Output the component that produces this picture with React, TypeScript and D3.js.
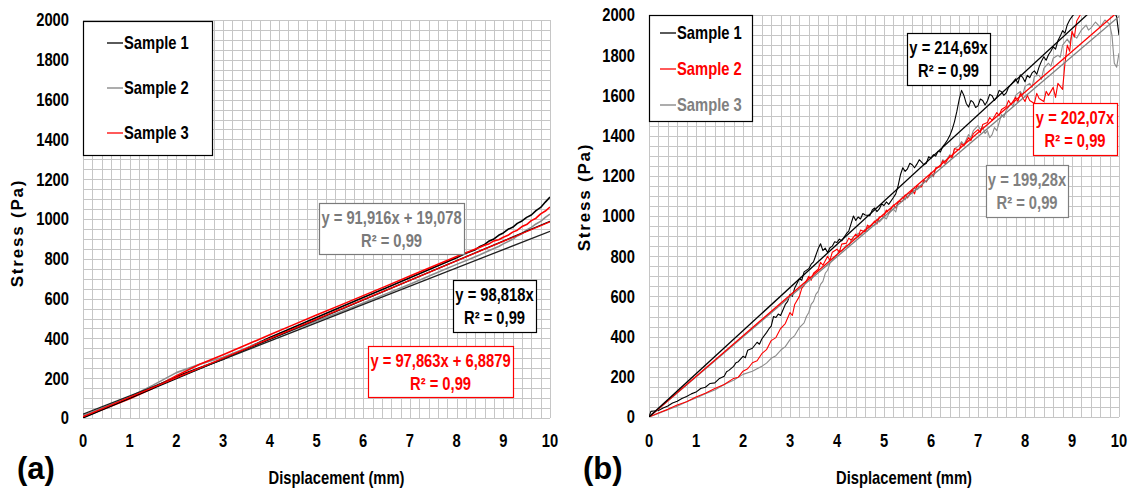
import { useEffect, useRef } from "react";
import * as d3 from "d3";

type Pt = [number, number];

const xTicks = [0, 1, 2, 3, 4, 5, 6, 7, 8, 9, 10];
const yTicks = [0, 200, 400, 600, 800, 1000, 1200, 1400, 1600, 1800, 2000];

// panel (a)
const aSample1: Pt[] = [
  [0, 8], [0.5, 55], [1, 103], [1.5, 155], [2, 208], [2.5, 252], [3, 295], [3.5, 350], [4, 405],
  [4.5, 455], [5, 505], [5.5, 555], [6, 605], [6.5, 655], [7, 705], [7.5, 755], [8, 805],
  [8.2, 828], [8.4, 846], [8.5, 862], [8.6, 872], [8.7, 890], [8.8, 900], [8.9, 918], [9, 930],
  [9.1, 948], [9.2, 958], [9.3, 978], [9.4, 990], [9.5, 1008], [9.6, 1020], [9.7, 1042],
  [9.8, 1058], [9.9, 1085], [10, 1110],
];
const aSample2: Pt[] = [
  [0, 12], [0.5, 58], [1, 106], [1.5, 165], [2, 228], [2.5, 270], [3, 305], [3.5, 352], [4, 398],
  [4.5, 442], [5, 488], [5.5, 532], [6, 578], [6.5, 625], [7, 672], [7.5, 722], [8, 772],
  [8.3, 800], [8.5, 820], [8.7, 842], [8.9, 862], [9, 875], [9.2, 898], [9.3, 915], [9.4, 926],
  [9.5, 945], [9.6, 958], [9.7, 975], [9.8, 988], [9.9, 1008], [10, 1025],
];
const aSample3: Pt[] = [
  [0, 4], [0.5, 50], [1, 97], [1.5, 150], [2, 212], [2.5, 270], [3, 318], [3.5, 368], [4, 418],
  [4.5, 468], [5, 518], [5.5, 566], [6, 615], [6.5, 664], [7, 713], [7.5, 762], [8, 812],
  [8.5, 858], [8.6, 868], [8.7, 876], [8.8, 890], [8.9, 896], [9, 908], [9.1, 918], [9.2, 934],
  [9.3, 944], [9.4, 962], [9.5, 972], [9.6, 992], [9.7, 1004], [9.8, 1026], [9.9, 1040], [10, 1060],
];
const aFits = [
  { slope: 98.818, icpt: 0, color: "#000000" },
  { slope: 91.916, icpt: 19.078, color: "#202020" },
  { slope: 97.863, icpt: 6.8879, color: "#ff0000" },
];

// panel (b)
const bSample1: Pt[] = [
  [0, 0], [0.04, 28], [0.1, 30], [0.2, 32], [0.3, 45], [0.4, 55], [0.5, 70], [0.6, 78], [0.7, 92],
  [0.8, 102], [0.9, 115], [1.0, 124], [1.1, 142], [1.2, 148], [1.3, 167], [1.4, 170], [1.5, 192],
  [1.6, 203], [1.65, 225], [1.7, 232], [1.8, 252], [1.85, 270], [1.9, 275], [2.0, 302], [2.05, 295],
  [2.1, 332], [2.2, 342], [2.3, 372], [2.35, 362], [2.4, 388], [2.5, 420], [2.55, 438], [2.6, 452],
  [2.65, 500], [2.7, 495], [2.75, 512], [2.8, 505], [2.9, 560], [2.95, 575], [3.0, 610], [3.05, 600],
  [3.1, 642], [3.2, 688], [3.25, 680], [3.3, 722], [3.4, 738], [3.45, 760], [3.5, 772], [3.55, 805],
  [3.6, 838], [3.65, 862], [3.7, 828], [3.75, 840], [3.8, 818], [3.85, 842], [3.9, 850], [3.95, 872],
  [4.0, 868], [4.05, 885], [4.1, 876], [4.2, 912], [4.25, 925], [4.3, 962], [4.35, 1000], [4.4, 978],
  [4.45, 995], [4.5, 985], [4.55, 1012], [4.6, 1005], [4.7, 1002], [4.75, 1030], [4.8, 1040],
  [4.85, 1022], [4.9, 1035], [4.95, 1060], [5.0, 1052], [5.05, 1070], [5.1, 1058], [5.2, 1092],
  [5.25, 1110], [5.3, 1150], [5.35, 1205], [5.4, 1240], [5.45, 1222], [5.5, 1235], [5.55, 1262],
  [5.6, 1255], [5.65, 1240], [5.7, 1258], [5.75, 1280], [5.8, 1268], [5.85, 1255], [5.9, 1262],
  [5.95, 1295], [6.0, 1288], [6.05, 1305], [6.1, 1298], [6.15, 1322], [6.2, 1318], [6.25, 1345],
  [6.3, 1360], [6.35, 1378], [6.4, 1400], [6.45, 1430], [6.5, 1470], [6.55, 1520], [6.6, 1580],
  [6.65, 1625], [6.7, 1600], [6.75, 1560], [6.8, 1542], [6.85, 1575], [6.9, 1565], [6.95, 1540],
  [7.0, 1548], [7.05, 1582], [7.1, 1575], [7.15, 1552], [7.2, 1572], [7.25, 1605], [7.3, 1598],
  [7.35, 1575], [7.4, 1592], [7.45, 1625], [7.5, 1618], [7.55, 1600], [7.6, 1612], [7.65, 1640],
  [7.7, 1652], [7.75, 1668], [7.8, 1682], [7.85, 1660], [7.9, 1702], [7.95, 1690], [8.0, 1668],
  [8.05, 1700], [8.1, 1688], [8.15, 1712], [8.2, 1722], [8.25, 1705], [8.3, 1742], [8.35, 1770],
  [8.4, 1792], [8.45, 1775], [8.5, 1802], [8.55, 1820], [8.6, 1842], [8.65, 1830], [8.7, 1872],
  [8.75, 1895], [8.8, 1922], [8.85, 1910], [8.9, 1952], [8.95, 1975], [9.0, 1992], [9.1, 2020],
  [9.3, 2040], [9.5, 2030], [9.7, 2050], [9.9, 2020], [9.95, 1990], [10.0, 1900],
];
const bSample2: Pt[] = [
  [0, 0], [0.2, 20], [0.4, 38], [0.6, 60], [0.8, 76], [1.0, 100], [1.2, 118], [1.4, 142], [1.6, 162],
  [1.8, 192], [1.9, 198], [2.0, 228], [2.1, 240], [2.2, 270], [2.3, 280], [2.4, 315], [2.5, 335],
  [2.6, 380], [2.7, 395], [2.8, 440], [2.9, 465], [3.0, 520], [3.05, 505], [3.1, 560], [3.2, 600],
  [3.25, 640], [3.3, 655], [3.4, 700], [3.45, 680], [3.5, 715], [3.6, 735], [3.65, 770], [3.7, 755],
  [3.8, 800], [3.85, 780], [3.9, 820], [4.0, 835], [4.05, 820], [4.1, 860], [4.2, 865], [4.25, 890],
  [4.3, 880], [4.4, 910], [4.45, 895], [4.5, 930], [4.6, 920], [4.65, 955], [4.7, 945], [4.8, 975],
  [4.85, 960], [4.9, 995], [5.0, 1000], [5.05, 1030], [5.1, 1015], [5.2, 1055], [5.25, 1040],
  [5.3, 1070], [5.4, 1075], [5.45, 1105], [5.5, 1090], [5.6, 1130], [5.65, 1110], [5.7, 1150],
  [5.8, 1145], [5.85, 1175], [5.9, 1170], [6.0, 1215], [6.05, 1200], [6.1, 1240], [6.2, 1245],
  [6.25, 1275], [6.3, 1260], [6.4, 1300], [6.45, 1290], [6.5, 1335], [6.6, 1330], [6.65, 1360],
  [6.7, 1350], [6.8, 1390], [6.85, 1375], [6.9, 1410], [7.0, 1430], [7.05, 1415], [7.1, 1455],
  [7.2, 1465], [7.25, 1490], [7.3, 1475], [7.4, 1515], [7.45, 1500], [7.5, 1530], [7.6, 1545],
  [7.65, 1575], [7.7, 1555], [7.8, 1590], [7.85, 1570], [7.9, 1610], [8.0, 1570], [8.05, 1600],
  [8.1, 1575], [8.2, 1560], [8.25, 1610], [8.3, 1585], [8.4, 1570], [8.45, 1620], [8.5, 1600],
  [8.6, 1640], [8.65, 1590], [8.7, 1660], [8.8, 1630], [8.85, 1760], [8.9, 1850], [8.95, 1820],
  [9.0, 1920], [9.05, 1890], [9.1, 1970], [9.2, 2010], [9.4, 2030], [9.6, 2020], [9.8, 2040], [10, 2020],
];
const bSample3: Pt[] = [
  [0, 0], [0.2, 18], [0.4, 36], [0.6, 54], [0.8, 76], [1.0, 94], [1.2, 116], [1.4, 134], [1.6, 162],
  [1.8, 183], [2.0, 212], [2.2, 228], [2.4, 252], [2.5, 268], [2.6, 292], [2.7, 305], [2.8, 332],
  [2.9, 350], [3.0, 385], [3.1, 405], [3.2, 445], [3.3, 468], [3.35, 500], [3.4, 520], [3.45, 560],
  [3.5, 575], [3.55, 610], [3.6, 625], [3.65, 660], [3.7, 675], [3.75, 715], [3.8, 730], [3.85, 765],
  [3.9, 780], [4.0, 805], [4.05, 830], [4.1, 825], [4.2, 855], [4.25, 845], [4.3, 880], [4.4, 890],
  [4.45, 915], [4.5, 905], [4.6, 935], [4.65, 925], [4.7, 950], [4.8, 955], [4.85, 985], [4.9, 970],
  [5.0, 995], [5.05, 985], [5.1, 1010], [5.2, 1035], [5.25, 1020], [5.3, 1065], [5.4, 1095],
  [5.45, 1080], [5.5, 1110], [5.6, 1115], [5.65, 1140], [5.7, 1130], [5.8, 1150], [5.85, 1180],
  [5.9, 1170], [6.0, 1205], [6.05, 1195], [6.1, 1235], [6.2, 1250], [6.25, 1280], [6.3, 1270],
  [6.4, 1305], [6.45, 1290], [6.5, 1335], [6.6, 1350], [6.65, 1370], [6.7, 1355], [6.8, 1405],
  [6.85, 1390], [6.9, 1425], [7.0, 1450], [7.05, 1430], [7.1, 1445], [7.15, 1410], [7.2, 1425],
  [7.25, 1390], [7.3, 1405], [7.35, 1440], [7.4, 1425], [7.5, 1505], [7.55, 1490], [7.6, 1525],
  [7.7, 1560], [7.75, 1545], [7.8, 1600], [7.9, 1620], [7.95, 1600], [8.0, 1645], [8.1, 1660],
  [8.15, 1640], [8.2, 1695], [8.3, 1700], [8.35, 1680], [8.4, 1735], [8.5, 1760], [8.55, 1745],
  [8.6, 1785], [8.7, 1800], [8.75, 1790], [8.8, 1850], [8.9, 1880], [8.95, 1860], [9.0, 1905],
  [9.1, 1885], [9.2, 1925], [9.3, 1950], [9.35, 1925], [9.4, 1935], [9.5, 1965], [9.6, 1940],
  [9.7, 1975], [9.8, 1955], [9.85, 1900], [9.9, 1760], [9.95, 1740], [10, 1810],
];
const bFits = [
  { slope: 199.28, icpt: 0, color: "#808080" },
  { slope: 202.07, icpt: 0, color: "#ff0000" },
  { slope: 214.69, icpt: 0, color: "#000000" },
];

const FONT = "'Liberation Sans', Arial, sans-serif";
const NARROW = 0.82; // no Arial Narrow here, squeeze Liberation Sans instead

const panels = [
  {
    id: "a",
    letter: "(a)",
    x0: 83, x1: 550, y0: 418, y1: 20,
    series: [
      { data: aSample1, color: "#000000" },
      { data: aSample2, color: "#8c8c8c" },
      { data: aSample3, color: "#ff0000" },
    ],
    fits: aFits,
    legend: {
      box: [83, 21, 129, 134],
      rows: [
        { label: "Sample 1", line: "#000000", text: "#000000", y: 43 },
        { label: "Sample 2", line: "#808080", text: "#000000", y: 88 },
        { label: "Sample 3", line: "#ff0000", text: "#000000", y: 133 },
      ],
      lx: [107, 123],
    },
    notes: [
      { box: [319, 203, 145, 51], color: "#7a7a7a", border: "#7a7a7a", lines: ["y = 91,916x + 19,078", "R² = 0,99"] },
      { box: [453, 280, 83, 52], color: "#000000", border: "#000000", lines: ["y = 98,818x", "R² = 0,99"] },
      { box: [368, 346, 145, 51], color: "#ff0000", border: "#ff0000", lines: ["y = 97,863x + 6,8879", "R² = 0,99"] },
    ],
    yTitle: [17, 233],
    curveWidth: 1.6,
  },
  {
    id: "b",
    letter: "(b)",
    x0: 649, x1: 1119, y0: 417, y1: 15,
    series: [
      { data: bSample3, color: "#8c8c8c" },
      { data: bSample2, color: "#ff0000" },
      { data: bSample1, color: "#000000" },
    ],
    fits: bFits,
    legend: {
      box: [649, 15, 103, 106],
      rows: [
        { label: "Sample 1", line: "#000000", text: "#000000", y: 33 },
        { label: "Sample 2", line: "#ff0000", text: "#ff0000", y: 69 },
        { label: "Sample 3", line: "#808080", text: "#808080", y: 105 },
      ],
      lx: [660, 676],
    },
    notes: [
      { box: [907, 33, 83, 52], color: "#000000", border: "#000000", lines: ["y = 214,69x", "R² = 0,99"] },
      { box: [1033, 103, 84, 52], color: "#ff0000", border: "#ff0000", lines: ["y = 202,07x", "R² = 0,99"] },
      { box: [986, 165, 82, 52], color: "#808080", border: "#808080", lines: ["y = 199,28x", "R² = 0,99"] },
    ],
    yTitle: [17, 233],
    curveWidth: 1.1,
  },
];
panels[1].yTitle = [584, 197];

// bold condensed label, squeezed around its anchor point
function narrowText(
  g: d3.Selection<SVGGElement, unknown, null, undefined>,
  x: number,
  y: number,
  str: string,
  anchor: string,
  fill = "#000",
  size = 18,
) {
  return g.append("text")
    .attr("transform", `translate(${x},${y}) scale(${NARROW},1)`)
    .attr("dy", "0.36em")
    .attr("text-anchor", anchor)
    .attr("font-family", FONT).attr("font-weight", "bold").attr("font-size", size)
    .attr("fill", fill)
    .text(str);
}

const App = () => {
  const ref = useRef<SVGSVGElement>(null);

  useEffect(() => {
    const svg = d3.select(ref.current);
    svg.selectAll("*").remove();

    panels.forEach((p) => {
      const x = d3.scaleLinear().domain([0, 10]).range([p.x0, p.x1]);
      const y = d3.scaleLinear().domain([0, 2000]).range([p.y0, p.y1]);
      const g = svg.append("g") as any;

      // grid (minor every 0.2 / 50)
      const gx = d3.range(0, 10.001, 0.2);
      const gy = d3.range(0, 2000.1, 50);
      const grid = g.append("g").attr("stroke", "#c6c6c6").attr("stroke-width", 1);
      grid.selectAll("line.v").data(gx).join("line")
        .attr("x1", (d: number) => Math.round(x(d)) + 0.5).attr("x2", (d: number) => Math.round(x(d)) + 0.5)
        .attr("y1", p.y0).attr("y2", p.y1);
      grid.selectAll("line.h").data(gy).join("line")
        .attr("y1", (d: number) => Math.round(y(d)) + 0.5).attr("y2", (d: number) => Math.round(y(d)) + 0.5)
        .attr("x1", p.x0).attr("x2", p.x1);

      // tick labels
      yTicks.forEach((t) => narrowText(g, p.x0 - 14, y(t), String(t), "end"));
      xTicks.forEach((t) => narrowText(g, x(t), 441, String(t), "middle"));

      // titles
      g.append("text")
        .attr("transform", `translate(${p.yTitle[0]},${p.yTitle[1]}) rotate(-90)`)
        .attr("text-anchor", "middle").attr("dy", "0.36em")
        .attr("font-family", FONT).attr("font-weight", "bold").attr("font-size", 17)
        .attr("letter-spacing", 1.8)
        .text("Stress (Pa)");
      narrowText(g, (p.x0 + p.x1) / 2 + 20, 478, "Displacement (mm)", "middle");
      g.append("text")
        .attr("x", p.x0 - 66).attr("y", 468).attr("dy", "0.36em")
        .attr("font-family", FONT).attr("font-weight", "bold").attr("font-size", 31)
        .text(p.letter);

      // data
      svg.append("clipPath").attr("id", `clip-${p.id}`)
        .append("rect")
        .attr("x", p.x0).attr("y", p.y1).attr("width", p.x1 - p.x0).attr("height", p.y0 - p.y1);
      const plot = g.append("g").attr("clip-path", `url(#clip-${p.id})`);
      const line = d3.line<Pt>().x((d) => x(d[0])).y((d) => y(d[1]));
      plot.selectAll("path.s").data(p.series).join("path")
        .attr("fill", "none").attr("stroke", (d: any) => d.color)
        .attr("stroke-width", p.curveWidth).attr("stroke-linejoin", "round")
        .attr("d", (d: any) => line(d.data));
      plot.selectAll("line.fit").data(p.fits).join("line")
        .attr("stroke", (d: any) => d.color).attr("stroke-width", 1.3)
        .attr("x1", x(0)).attr("y1", (d: any) => y(d.icpt))
        .attr("x2", x(10)).attr("y2", (d: any) => y(d.slope * 10 + d.icpt));

      // legend
      const L = p.legend;
      g.append("rect")
        .attr("x", L.box[0] + 0.5).attr("y", L.box[1] + 0.5)
        .attr("width", L.box[2]).attr("height", L.box[3])
        .attr("fill", "#fff").attr("stroke", "#000").attr("stroke-width", 1.2);
      L.rows.forEach((r) => {
        g.append("line")
          .attr("x1", L.lx[0]).attr("x2", L.lx[1]).attr("y1", r.y).attr("y2", r.y)
          .attr("stroke", r.line).attr("stroke-width", 1.3);
        narrowText(g, L.lx[1] + 1, r.y, r.label, "start", r.text);
      });

      // equation boxes
      p.notes.forEach((n) => {
        g.append("rect")
          .attr("x", n.box[0] + 0.5).attr("y", n.box[1] + 0.5)
          .attr("width", n.box[2]).attr("height", n.box[3])
          .attr("fill", "#fff").attr("stroke", n.border).attr("stroke-width", 1.2);
        n.lines.forEach((t, i) =>
          narrowText(g, n.box[0] + n.box[2] / 2, n.box[1] + 15 + i * 23, t, "middle", n.color),
        );
      });
    });
  });

  return (
    <svg
      ref={ref}
      width={1132}
      height={490}
      style={{ position: "absolute", left: 0, top: 0, background: "#fff" }}
    />
  );
};

export default App;
